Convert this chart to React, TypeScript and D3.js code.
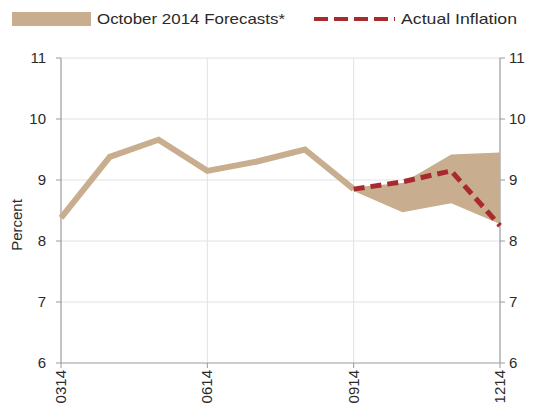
import * as d3 from "d3";

const months = ["0314", "0414", "0514", "0614", "0714", "0814", "0914", "1014", "1114", "1214"];
const history = [8.38, 9.38, 9.66, 9.15, 9.3, 9.5, 8.85];
const bandMonths = ["0914", "1014", "1114", "1214"];
const bandHigh = [8.88, 8.95, 9.42, 9.45];
const bandLow = [8.82, 8.47, 8.62, 8.28];
const actualMonths = ["0914", "1014", "1114", "1214"];
const actual = [8.85, 8.97, 9.15, 8.25];
const yTicks = [6, 7, 8, 9, 10, 11];
const xTickLabels = ["0314", "0614", "0914", "1214"];

const beige = "#c8ae8e";
const red = "#a82a2e";
const axisGrey = "#9a9a9a";
const gridGrey = "#e2e2e2";
const textCol = "#2a2a2a";
const font = "Arial, 'Liberation Sans', sans-serif";

export default function App() {
  const W = 535;
  const H = 419;
  const left = 61;
  const right = 500;
  const top = 58;
  const bottom = 363;

  const x = d3.scalePoint<string>().domain(months).range([left, right]);
  const y = d3.scaleLinear().domain([6, 11]).range([bottom, top]);

  const histLine = d3
    .line<number>()
    .x((_, i) => x(months[i]) as number)
    .y((d) => y(d));

  const band = d3
    .area<number>()
    .x((_, i) => x(bandMonths[i]) as number)
    .y0((_, i) => y(bandLow[i]))
    .y1((d) => y(d));

  const actLine = d3
    .line<number>()
    .x((_, i) => x(actualMonths[i]) as number)
    .y((d) => y(d));

  return (
    <svg width={W} height={H} style={{ position: "absolute", left: 0, top: 0, background: "#fff" }}>
      {/* legend */}
      <rect x={12} y={12} width={79} height={14} fill={beige} />
      <text x={97} y={24} fontFamily={font} fontSize={15} fill={textCol} textLength={188} lengthAdjust="spacingAndGlyphs">
        October 2014 Forecasts*
      </text>
      <line x1={314} x2={395} y1={19} y2={19} stroke={red} strokeWidth={4} strokeDasharray="14,6" />
      <text x={401} y={24} fontFamily={font} fontSize={15} fill={textCol} textLength={116} lengthAdjust="spacingAndGlyphs">
        Actual Inflation
      </text>

      {/* grid */}
      {yTicks.slice(1).map((t) => (
        <line key={"g" + t} x1={left} x2={right} y1={y(t)} y2={y(t)} stroke={gridGrey} />
      ))}
      {xTickLabels.slice(1, -1).map((m) => (
        <line key={"v" + m} x1={x(m)} x2={x(m)} y1={top} y2={bottom} stroke={gridGrey} />
      ))}

      {/* axes */}
      <line x1={left} x2={left} y1={top} y2={bottom} stroke={axisGrey} strokeWidth={1.2} />
      <line x1={right} x2={right} y1={top} y2={bottom} stroke={axisGrey} strokeWidth={1.2} />
      <line x1={left} x2={right} y1={bottom} y2={bottom} stroke={axisGrey} strokeWidth={1.2} />
      {yTicks.map((t) => (
        <g key={"t" + t}>
          <line x1={left - 5} x2={left} y1={y(t)} y2={y(t)} stroke={axisGrey} />
          <line x1={right} x2={right + 5} y1={y(t)} y2={y(t)} stroke={axisGrey} />
          <text x={left - 15} y={y(t) + 5} textAnchor="end" fontFamily={font} fontSize={15} fill={textCol}>
            {t}
          </text>
          <text x={right + 9} y={y(t) + 5} fontFamily={font} fontSize={15} fill={textCol}>
            {t}
          </text>
        </g>
      ))}
      {xTickLabels.map((m) => (
        <g key={"x" + m}>
          <line x1={x(m)} x2={x(m)} y1={bottom} y2={bottom + 5} stroke={axisGrey} />
          <text
            transform={`translate(${(x(m) as number) + 5},${bottom + 7}) rotate(-90)`}
            textAnchor="end"
            fontFamily={font}
            fontSize={15}
            fill={textCol}
          >
            {m}
          </text>
        </g>
      ))}
      <text
        transform={`translate(22,${225}) rotate(-90)`}
        textAnchor="middle"
        fontFamily={font}
        fontSize={15}
        fill={textCol}
      >
        Percent
      </text>

      {/* data */}
      <path d={band(bandHigh) ?? ""} fill={beige} />
      <path d={histLine(history) ?? ""} fill="none" stroke={beige} strokeWidth={6} strokeLinejoin="miter" />
      <path
        d={actLine(actual) ?? ""}
        fill="none"
        stroke={red}
        strokeWidth={5}
        strokeDasharray="11,6"
      />
    </svg>
  );
}
